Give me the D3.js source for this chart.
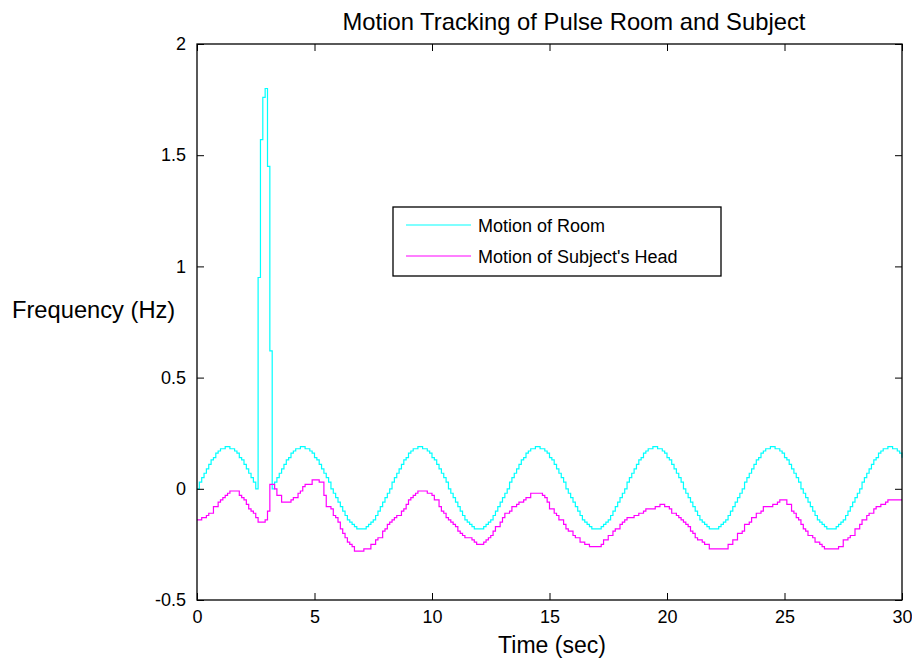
<!DOCTYPE html>
<html>
<head>
<meta charset="utf-8">
<script src="https://cdn.jsdelivr.net/npm/d3@7"></script>
<style>
  html, body { margin: 0; padding: 0; background: #fff; }
  svg { display: block; font-family: "Liberation Sans", Arial, Helvetica, sans-serif; }
</style>
</head>
<body>
<svg id="chart" width="912" height="660"></svg>
<script>
// ---- data (sampled every 0.1 s, 0 … 30 s) ----
const sampleStep = 0.1;

const roomMotion = [
  0.00,0.03,0.05,0.07,0.09,0.11,0.13,0.14,0.16,0.17,
  0.18,0.18,0.19,0.19,0.18,0.18,0.17,0.16,0.14,0.13,
  0.11,0.09,0.07,0.05,0.03,0.00,0.95,1.57,1.76,1.80,
  1.45,0.62,0.00,0.03,0.05,0.07,0.09,0.11,0.13,0.14,
  0.16,0.17,0.18,0.18,0.19,0.19,0.18,0.18,0.17,0.16,
  0.14,0.13,0.11,0.09,0.07,0.05,0.03,0.00,-0.02,-0.04,
  -0.06,-0.08,-0.10,-0.12,-0.14,-0.15,-0.16,-0.17,-0.18,-0.18,
  -0.18,-0.18,-0.17,-0.16,-0.15,-0.14,-0.12,-0.10,-0.08,-0.06,
  -0.04,-0.02,0.00,0.03,0.05,0.07,0.09,0.11,0.13,0.14,
  0.16,0.17,0.18,0.18,0.19,0.19,0.18,0.18,0.17,0.16,
  0.14,0.13,0.11,0.09,0.07,0.05,0.03,0.00,-0.02,-0.04,
  -0.06,-0.08,-0.10,-0.12,-0.14,-0.15,-0.16,-0.17,-0.18,-0.18,
  -0.18,-0.18,-0.17,-0.16,-0.15,-0.14,-0.12,-0.10,-0.08,-0.06,
  -0.04,-0.02,0.00,0.03,0.05,0.07,0.09,0.11,0.13,0.14,
  0.16,0.17,0.18,0.18,0.19,0.19,0.18,0.18,0.17,0.16,
  0.14,0.13,0.11,0.09,0.07,0.05,0.03,0.00,-0.02,-0.04,
  -0.06,-0.08,-0.10,-0.12,-0.14,-0.15,-0.16,-0.17,-0.18,-0.18,
  -0.18,-0.18,-0.17,-0.16,-0.15,-0.14,-0.12,-0.10,-0.08,-0.06,
  -0.04,-0.02,0.00,0.03,0.05,0.07,0.09,0.11,0.13,0.14,
  0.16,0.17,0.18,0.18,0.19,0.19,0.18,0.18,0.17,0.16,
  0.14,0.13,0.11,0.09,0.07,0.05,0.03,0.00,-0.02,-0.04,
  -0.06,-0.08,-0.10,-0.12,-0.14,-0.15,-0.16,-0.17,-0.18,-0.18,
  -0.18,-0.18,-0.17,-0.16,-0.15,-0.14,-0.12,-0.10,-0.08,-0.06,
  -0.04,-0.02,0.00,0.03,0.05,0.07,0.09,0.11,0.13,0.14,
  0.16,0.17,0.18,0.18,0.19,0.19,0.18,0.18,0.17,0.16,
  0.14,0.13,0.11,0.09,0.07,0.05,0.03,0.00,-0.02,-0.04,
  -0.06,-0.08,-0.10,-0.12,-0.14,-0.15,-0.16,-0.17,-0.18,-0.18,
  -0.18,-0.18,-0.17,-0.16,-0.15,-0.14,-0.12,-0.10,-0.08,-0.06,
  -0.04,-0.02,0.00,0.03,0.05,0.07,0.09,0.11,0.13,0.14,
  0.16,0.17,0.18,0.18,0.19,0.19,0.18,0.18,0.17,0.16,
  0.14
];

const headMotion = [
  -0.14,-0.14,-0.13,-0.13,-0.12,-0.11,-0.11,-0.08,-0.08,-0.06,
  -0.05,-0.04,-0.03,-0.02,-0.01,-0.01,-0.01,-0.01,-0.03,-0.04,
  -0.05,-0.07,-0.09,-0.10,-0.11,-0.13,-0.15,-0.15,-0.15,-0.14,
  -0.10,0.02,0.02,0.00,-0.03,-0.03,-0.06,-0.06,-0.06,-0.06,
  -0.05,-0.04,-0.04,-0.02,-0.01,0.01,0.02,0.02,0.02,0.04,
  0.04,0.04,0.03,0.03,-0.03,-0.08,-0.08,-0.09,-0.12,-0.13,
  -0.15,-0.18,-0.20,-0.22,-0.24,-0.25,-0.26,-0.28,-0.28,-0.28,
  -0.28,-0.27,-0.27,-0.27,-0.25,-0.25,-0.23,-0.22,-0.22,-0.19,
  -0.18,-0.16,-0.15,-0.14,-0.13,-0.12,-0.12,-0.10,-0.09,-0.07,
  -0.05,-0.04,-0.03,-0.02,-0.01,-0.01,-0.01,-0.01,-0.02,-0.02,
  -0.03,-0.05,-0.05,-0.08,-0.10,-0.11,-0.13,-0.14,-0.15,-0.16,
  -0.17,-0.19,-0.20,-0.21,-0.22,-0.22,-0.22,-0.23,-0.24,-0.25,
  -0.25,-0.25,-0.24,-0.23,-0.22,-0.21,-0.19,-0.17,-0.17,-0.15,
  -0.13,-0.11,-0.11,-0.10,-0.08,-0.08,-0.07,-0.06,-0.06,-0.05,
  -0.04,-0.04,-0.02,-0.02,-0.02,-0.02,-0.02,-0.03,-0.04,-0.06,
  -0.09,-0.09,-0.11,-0.12,-0.14,-0.14,-0.16,-0.18,-0.19,-0.19,
  -0.21,-0.22,-0.22,-0.24,-0.24,-0.25,-0.25,-0.26,-0.26,-0.26,
  -0.26,-0.26,-0.25,-0.23,-0.23,-0.21,-0.21,-0.19,-0.18,-0.18,
  -0.16,-0.15,-0.14,-0.13,-0.13,-0.13,-0.12,-0.12,-0.11,-0.11,
  -0.10,-0.09,-0.09,-0.09,-0.09,-0.08,-0.08,-0.07,-0.07,-0.08,
  -0.08,-0.09,-0.11,-0.11,-0.12,-0.13,-0.14,-0.15,-0.16,-0.17,
  -0.19,-0.20,-0.22,-0.23,-0.23,-0.24,-0.25,-0.25,-0.27,-0.27,
  -0.27,-0.27,-0.27,-0.27,-0.27,-0.27,-0.25,-0.25,-0.23,-0.23,
  -0.20,-0.20,-0.19,-0.16,-0.16,-0.15,-0.13,-0.13,-0.11,-0.11,
  -0.10,-0.08,-0.08,-0.08,-0.08,-0.07,-0.07,-0.06,-0.05,-0.05,
  -0.05,-0.07,-0.07,-0.10,-0.11,-0.13,-0.14,-0.16,-0.18,-0.19,
  -0.21,-0.21,-0.22,-0.24,-0.24,-0.25,-0.26,-0.27,-0.27,-0.27,
  -0.27,-0.27,-0.27,-0.26,-0.26,-0.23,-0.23,-0.22,-0.21,-0.21,
  -0.18,-0.18,-0.16,-0.14,-0.14,-0.12,-0.11,-0.11,-0.09,-0.08,
  -0.08,-0.07,-0.07,-0.06,-0.05,-0.05,-0.05,-0.05,-0.05,-0.05,
  -0.05
];

const xTicks = [0, 5, 10, 15, 20, 25, 30];
const yTicks = [-0.5, 0, 0.5, 1, 1.5, 2];
const yTickLabels = ["-0.5", "0", "0.5", "1", "1.5", "2"];
const seriesNames = ["Motion of Room", "Motion of Subject's Head"];
const seriesColors = ["#00ffff", "#ff00ff"];
const titleText = "Motion Tracking of Pulse Room and Subject";
const xLabel = "Time (sec)";
const yLabel = "Frequency (Hz)";

// ---- layout ----
const plot = { left: 197, right: 902, top: 44, bottom: 600 };
const svg = d3.select("#chart");

const x = d3.scaleLinear().domain([0, 30]).range([plot.left, plot.right]);
const y = d3.scaleLinear().domain([-0.5, 2]).range([plot.bottom, plot.top]);

const toPoints = arr => arr.map((v, i) => ({ t: +(i * sampleStep).toFixed(2), v }));
const series = [toPoints(roomMotion), toPoints(headMotion)];

// data lines
const line = d3.line().x(d => x(d.t)).y(d => y(d.v)).curve(d3.curveStepAfter);
svg.append("g").selectAll("path").data(series).join("path")
  .attr("d", line)
  .attr("fill", "none")
  .attr("stroke", (d, i) => seriesColors[i])
  .attr("stroke-width", 1.2);

// axes (inward ticks)
const tickLen = 7;
const fmtY = d => yTickLabels[yTicks.indexOf(d)];

const gB = svg.append("g").attr("transform", `translate(0,${plot.bottom})`)
  .call(d3.axisBottom(x).tickValues(xTicks).tickSizeInner(-tickLen).tickSizeOuter(0).tickPadding(10).tickFormat(d3.format("d")));
const gT = svg.append("g").attr("transform", `translate(0,${plot.top})`)
  .call(d3.axisTop(x).tickValues(xTicks).tickSizeInner(-tickLen).tickSizeOuter(0).tickFormat(""));
const gL = svg.append("g").attr("transform", `translate(${plot.left},0)`)
  .call(d3.axisLeft(y).tickValues(yTicks).tickSizeInner(-tickLen).tickSizeOuter(0).tickPadding(11).tickFormat(fmtY));
const gR = svg.append("g").attr("transform", `translate(${plot.right},0)`)
  .call(d3.axisRight(y).tickValues(yTicks).tickSizeInner(-tickLen).tickSizeOuter(0).tickFormat(""));

[gB, gT, gL, gR].forEach(g => {
  g.select(".domain").remove();
  g.selectAll(".tick line").attr("stroke", "#000").attr("stroke-width", 1);
  g.selectAll("text").attr("fill", "#000").attr("font-size", 18)
    .attr("font-family", "'Liberation Sans', Arial, Helvetica, sans-serif");
});

// frame
svg.append("rect")
  .attr("x", plot.left).attr("y", plot.top)
  .attr("width", plot.right - plot.left).attr("height", plot.bottom - plot.top)
  .attr("fill", "none").attr("stroke", "#000").attr("stroke-width", 1.3);

// title & axis labels
svg.append("text").attr("x", 574).attr("y", 30).attr("text-anchor", "middle")
  .attr("font-size", 23.8).attr("fill", "#000").text(titleText);
svg.append("text").attr("x", 552).attr("y", 653).attr("text-anchor", "middle")
  .attr("font-size", 23).attr("fill", "#000").text(xLabel);
svg.append("text").attr("x", 12).attr("y", 318).attr("text-anchor", "start")
  .attr("font-size", 23.7).attr("fill", "#000").text(yLabel);

// legend
const legend = svg.append("g");
legend.append("rect").attr("x", 393).attr("y", 207).attr("width", 328).attr("height", 69)
  .attr("fill", "#fff").attr("stroke", "#000").attr("stroke-width", 1.3);
const rows = legend.selectAll("g.row").data(seriesNames).join("g")
  .attr("class", "row")
  .attr("transform", (d, i) => `translate(0,${225 + i * 31})`);
rows.append("line").attr("x1", 406).attr("x2", 471).attr("y1", 0).attr("y2", 0)
  .attr("stroke", (d, i) => seriesColors[i]).attr("stroke-width", 1.2);
rows.append("text").attr("x", 478).attr("y", 6.5).attr("font-size", 18).attr("fill", "#000")
  .text(d => d);
</script>
</body>
</html>
